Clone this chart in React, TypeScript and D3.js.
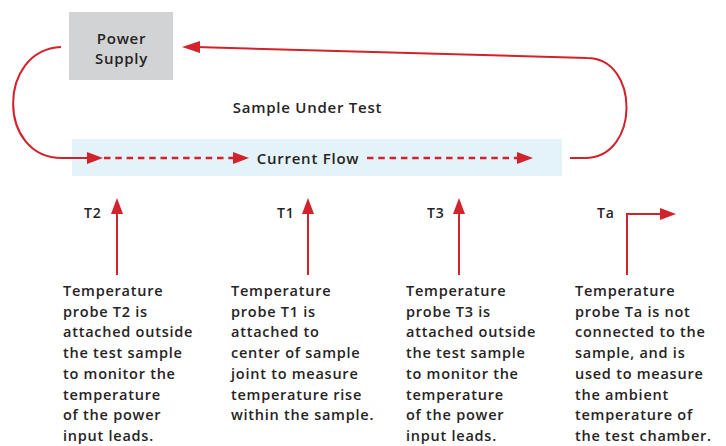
import React from "react";
import * as d3 from "d3";

// ---- content ----
const supplyLabel = ["Power", "Supply"];
const sampleLabel = "Sample Under Test";
const flowLabel = "Current Flow";
const probeLabels = ["T2", "T1", "T3", "Ta"];
const probeNotes: string[][] = [
  ["Temperature", "probe T2 is", "attached outside", "the test sample", "to monitor the", "temperature", "of the power", "input leads."],
  ["Temperature", "probe T1 is", "attached to", "center of sample", "joint to measure", "temperature rise", "within the sample."],
  ["Temperature", "probe T3 is", "attached outside", "the test sample", "to monitor the", "temperature", "of the power", "input leads."],
  ["Temperature", "probe Ta is not", "connected to the", "sample, and is", "used to measure", "the ambient", "temperature of", "the test chamber."],
];

// ---- layout ----
const W = 726, H = 446;
const RED = "#d2222c";
const TEXT = "#262324";
const FONT = "'Open Sans', 'DejaVu Sans', sans-serif";
const LS = 0.75;
const noteX = [63, 231, 406, 575];
const arrowX = [117, 308, 459, 627];
const labelX = [84, 277, 427, 597];

const line = d3.line<[number, number]>();

function Head({ tip, dir, len = 16, half = 6 }: { tip: [number, number]; dir: "r" | "l" | "u"; len?: number; half?: number }) {
  const [x, y] = tip;
  let pts: [number, number][];
  if (dir === "r") pts = [[x, y], [x - len, y - half], [x - len, y + half]];
  else if (dir === "l") pts = [[x, y], [x + len, y - half], [x + len, y + half]];
  else pts = [[x, y], [x - half, y + len], [x + half, y + len]];
  return <path d={line(pts)! + "Z"} fill={RED} />;
}

export default function App() {
  const flowY = 158;
  const yLine = d3.scaleLinear().domain([0, 7]).range([296, 441]);
  const txt = { fontFamily: FONT, fontWeight: 600, fill: TEXT, letterSpacing: LS } as const;
  return (
    <svg width={W} height={H} style={{ position: "absolute", left: 0, top: 0, background: "#fff" }}>
      {/* power supply */}
      <rect x={69} y={12} width={104} height={68} fill="#d1d3d4" />
      {supplyLabel.map((t, i) => (
        <text key={t} x={121.5} y={44 + i * 20} textAnchor="middle" fontSize={15} {...txt}>{t}</text>
      ))}
      {/* sample band */}
      <rect x={72} y={139} width={490} height={37} fill="#e4f2fa" />
      <text x={307.5} y={113} textAnchor="middle" fontSize={15} {...txt}>{sampleLabel}</text>
      <text x={308} y={164} textAnchor="middle" fontSize={15} {...txt}>{flowLabel}</text>

      {/* left return curve */}
      <path d={`M61,47 C-3,50 -3,${flowY} 62,${flowY} L90,${flowY}`} fill="none" stroke={RED} strokeWidth={2} />
      <Head tip={[103, flowY]} dir="r" />
      {/* dashed flow */}
      <path d={line([[104, flowY], [234, flowY]])!} stroke={RED} strokeWidth={2.5} strokeDasharray="6.5 4.8" fill="none" />
      <Head tip={[249, flowY]} dir="r" />
      <path d={line([[367, flowY], [518, flowY]])!} stroke={RED} strokeWidth={2.5} strokeDasharray="6.5 4.8" fill="none" />
      <Head tip={[533, flowY]} dir="r" />
      {/* right return curve */}
      <path d={`M570,${flowY} L585,${flowY} C640,${flowY} 640,58 587,58 L196,47`} fill="none" stroke={RED} strokeWidth={2} />
      <Head tip={[182, 47]} dir="l" len={18} />

      {/* probes */}
      {probeLabels.map((lab, i) => (
        <g key={lab}>
          <text x={labelX[i]} y={218} fontSize={14} {...txt}>{lab}</text>
          {i < 3 ? (
            <>
              <path d={line([[arrowX[i], 275], [arrowX[i], 212]])!} stroke={RED} strokeWidth={2} fill="none" />
              <Head tip={[arrowX[i], 198]} dir="u" />
            </>
          ) : (
            <>
              <path d={line([[arrowX[i], 275], [arrowX[i], 214], [662, 214]])!} stroke={RED} strokeWidth={2} fill="none" />
              <Head tip={[676, 214]} dir="r" />
            </>
          )}
          {probeNotes[i].map((t, j) => (
            <text key={j} x={noteX[i]} y={yLine(j)} fontSize={14.5} {...txt}>{t}</text>
          ))}
        </g>
      ))}
    </svg>
  );
}
